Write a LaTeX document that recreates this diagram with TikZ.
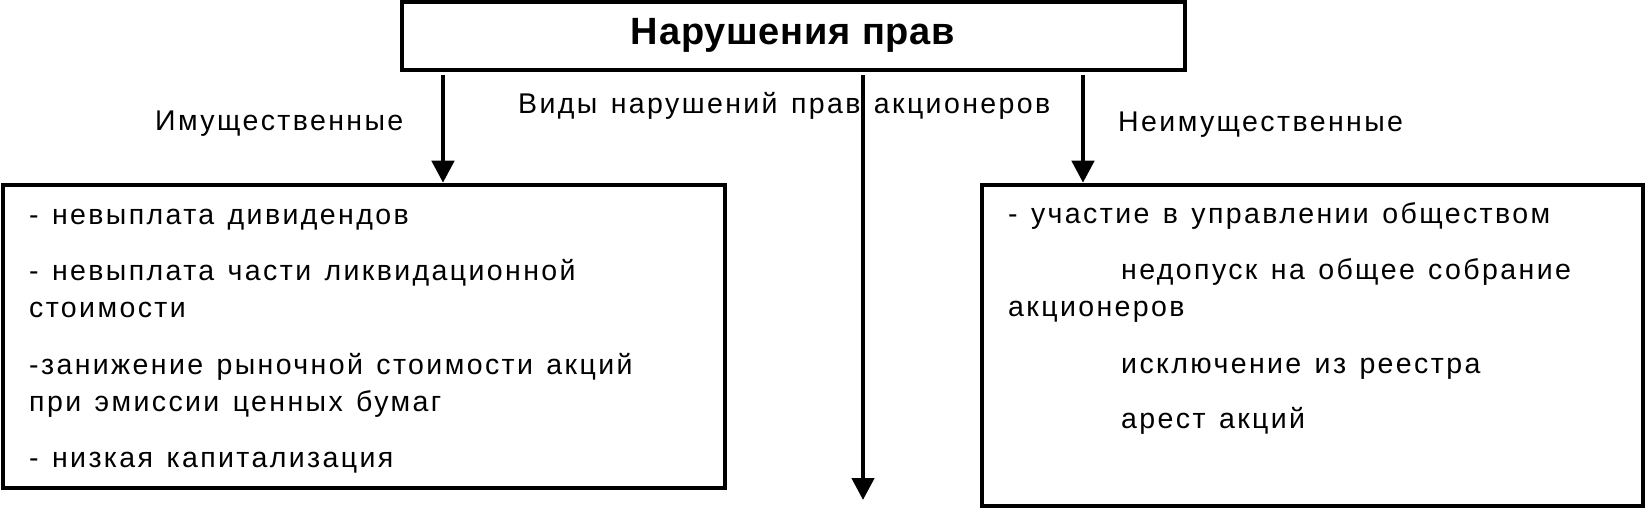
\documentclass[tikz,border=0pt]{standalone}
\usepackage{fontspec}
\setmainfont{Liberation Sans}
\newfontfamily\boxfont[LetterSpace=8.4,WordSpace=1.3]{Liberation Sans}
\newfontfamily\titlefont[LetterSpace=2]{Liberation Sans}
\usetikzlibrary{arrows.meta}
\tikzset{
  frame/.style={draw, line width=4.5pt, inner sep=0pt},
  conn/.style={line width=4.5pt, -{Triangle[length=22pt,width=22pt]}, shorten <=3pt},
  boxtxt/.style={anchor=base west, inner sep=0pt, font=\boxfont\fontsize{28.5}{34}\selectfont},
  labtxt/.style={boxtxt},
  ttl/.style={inner sep=0pt, font=\titlefont\bfseries\fontsize{38}{44}\selectfont}
}
\begin{document}
\begin{tikzpicture}[x=1pt,y=-1pt]
\useasboundingbox (0,0) rectangle (1648,510);
\fill[white] (0,0) rectangle (1648,510);
% boxes
\node[frame, minimum width=783pt, minimum height=68pt] (top) at (793.5,36) {};
\node[frame, minimum width=722pt, minimum height=303pt] (left) at (364,336.5) {};
\node[frame, minimum width=661pt, minimum height=321pt] (right) at (1312.5,345.5) {};
% title
\node[ttl, anchor=base] (title) at (793,45) {Нарушения прав};
% connectors
\coordinate (la) at (443,0);
\coordinate (ca) at (863,0);
\coordinate (ra) at (1083,0);
\coordinate (cend) at (863,500);
\draw[conn] (top.south -| la) -- (left.north -| la);
\draw[conn] (top.south -| ca) -- (cend);
\draw[conn] (top.south -| ra) -- (right.north -| ra);
% labels
\node[labtxt] (l1) at (155,131) {Имущественные};
\node[labtxt] (l2) at (518,114) {Виды нарушений прав акционеров};
\node[labtxt] (l3) at (1118,132) {Неимущественные};
% left box text
\node[boxtxt] (a1) at (29,225) {- невыплата дивидендов};
\node[boxtxt] (a2) at (29,281) {- невыплата части ликвидационной};
\node[boxtxt] (a3) at (29,318) {стоимости};
\node[boxtxt] (a4) at (29,374) {-занижение рыночной стоимости акций};
\node[boxtxt] (a5) at (29,411) {при эмиссии ценных бумаг};
\node[boxtxt] (a6) at (29,467) {- низкая капитализация};
% right box text
\node[boxtxt] (b1) at (1008,224) {- участие в управлении обществом};
\node[boxtxt] (b2) at (1121,280) {недопуск на общее собрание};
\node[boxtxt] (b3) at (1008,317) {акционеров};
\node[boxtxt] (b4) at (1121,373) {исключение из реестра};
\node[boxtxt] (b5) at (1121,428) {арест акций};
\end{tikzpicture}
\end{document}
